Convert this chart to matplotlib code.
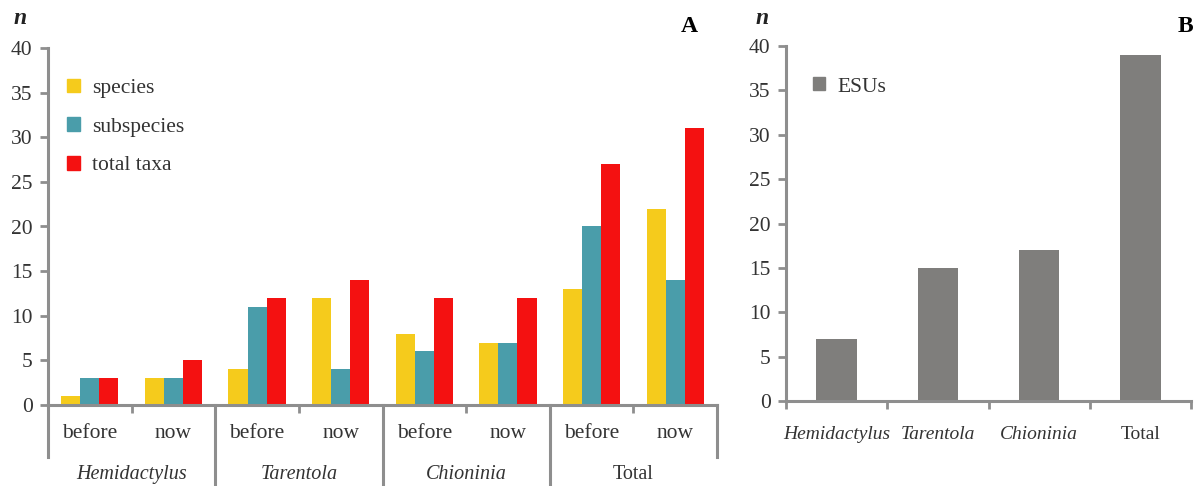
import matplotlib
matplotlib.use("Agg")
import matplotlib.pyplot as plt
from matplotlib.patches import Patch
from matplotlib.lines import Line2D

# ---- data ----
periods = ["before", "now"]
genera = ["Hemidactylus", "Tarentola", "Chioninia", "Total"]
species = [1, 3, 4, 12, 8, 7, 13, 22]
subspecies = [3, 3, 11, 4, 6, 7, 20, 14]
total_taxa = [3, 5, 12, 14, 12, 12, 27, 31]
esu_labels = ["Hemidactylus", "Tarentola", "Chioninia", "Total"]
esus = [7, 15, 17, 39]
y_ticks = [0, 5, 10, 15, 20, 25, 30, 35, 40]

# ---- style ----
FONT = "Liberation Serif"
plt.rcParams["font.family"] = [FONT, "DejaVu Serif"]
YELLOW = "#F5CB1C"
TEAL = "#4A9DAA"
RED = "#F41111"
GREY_BAR = "#7F7E7C"
AXIS = "#8E8E8E"
TXT = "#333333"
FS = 15.5

fig = plt.figure(figsize=(11.95, 4.86), dpi=100)
axA = fig.add_axes([48 / 1195, 1 - 405 / 486, (717 - 48) / 1195, (405 - 48) / 486])
axB = fig.add_axes([786 / 1195, 1 - 401 / 486, (1191 - 786) / 1195, (401 - 46) / 486])


def style_axis(ax):
    for s in ("top", "right"):
        ax.spines[s].set_visible(False)
    for s in ("left", "bottom"):
        ax.spines[s].set_color(AXIS)
        ax.spines[s].set_linewidth(2.2)
    ax.set_ylim(0, 40)
    ax.set_yticks(y_ticks)
    ax.tick_params(axis="y", direction="out", length=6, width=2, color=AXIS,
                   labelsize=FS, labelcolor=TXT, pad=5)


# ---- panel A ----
style_axis(axA)
n_cat = len(species)
xs = [i + 0.5 for i in range(n_cat)]
w = 0.228
axA.bar([x - w for x in xs], species, width=w, color=YELLOW, label="species")
axA.bar(xs, subspecies, width=w, color=TEAL, label="subspecies")
axA.bar([x + w for x in xs], total_taxa, width=w, color=RED, label="total taxa")
axA.set_xlim(0, n_cat)
axA.set_xticks([1, 3, 5, 7])
axA.set_xticklabels([])
axA.tick_params(axis="x", direction="out", length=6, width=2, color=AXIS)

trA = axA.get_xaxis_transform()
for i, x in enumerate(xs):
    axA.text(x, -0.08, periods[i % 2], transform=trA, ha="center", va="center",
             fontsize=FS, color=TXT)
for g, name in enumerate(genera):
    axA.text(2 * g + 1, -0.195, name, transform=trA, ha="center", va="center",
             fontsize=FS - 1, color=TXT, style="normal" if name == "Total" else "italic")
for b in range(0, n_cat + 1, 2):
    low = -0.146 if b in (0, n_cat) else -0.23
    axA.add_line(Line2D([b, b], [0, low], transform=trA, color=AXIS, lw=2.2,
                        clip_on=False))

axA.legend(handles=[Patch(color=YELLOW), Patch(color=TEAL), Patch(color=RED)],
           labels=["species", "subspecies", "total taxa"],
           loc="upper left", bbox_to_anchor=(0.0, 0.968), frameon=False,
           fontsize=FS, handlelength=0.58, handleheight=0.58, handletextpad=0.56,
           labelspacing=0.9, labelcolor=TXT)

fig.text(20 / 1195, 1 - 18 / 486, "n", fontsize=17, style="italic", weight="bold",
         color="#222222", ha="center", va="center")
fig.text(689 / 1195, 1 - 27 / 486, "A", fontsize=17, weight="bold", color="black",
         ha="center", va="center")

# ---- panel B ----
style_axis(axB)
xb = [i + 0.5 for i in range(len(esus))]
axB.bar(xb, esus, width=0.4, color=GREY_BAR, label="ESUs")
axB.set_xlim(0, len(esus))
axB.set_xticks(range(len(esus) + 1))
axB.set_xticklabels([])
axB.tick_params(axis="x", direction="out", length=6, width=2, color=AXIS)
trB = axB.get_xaxis_transform()
for x, name in zip(xb, esu_labels):
    axB.text(x, -0.093, name, transform=trB, ha="center", va="center", fontsize=FS - 1.5,
             color=TXT, style="normal" if name == "Total" else "italic")

axB.legend(handles=[Patch(color=GREY_BAR)], labels=["ESUs"], loc="upper left",
           bbox_to_anchor=(0.02, 0.966), frameon=False, fontsize=FS,
           handlelength=0.55, handleheight=0.55, handletextpad=0.56, labelcolor=TXT)

fig.text(762 / 1195, 1 - 18 / 486, "n", fontsize=17, style="italic", weight="bold",
         color="#222222", ha="center", va="center")
fig.text(1185 / 1195, 1 - 27 / 486, "B", fontsize=17, weight="bold", color="black",
         ha="center", va="center")

fig.savefig("out.png", dpi=100)
